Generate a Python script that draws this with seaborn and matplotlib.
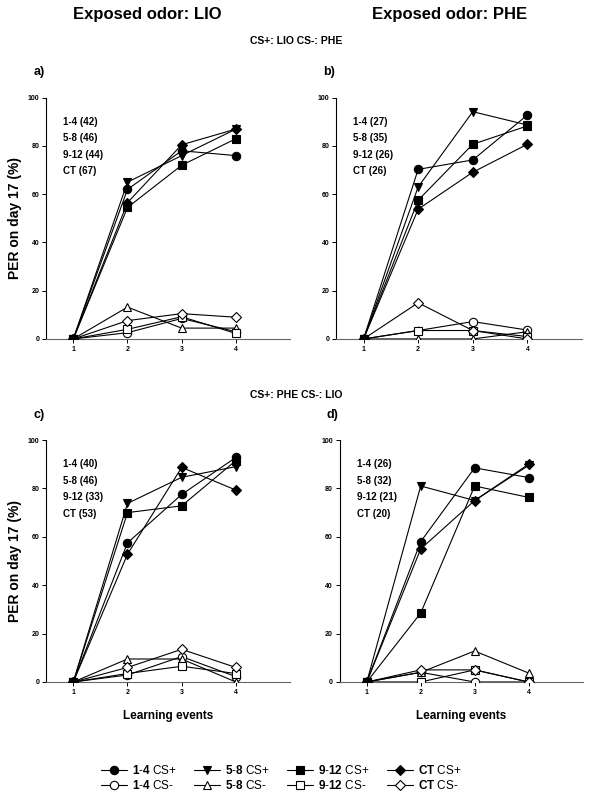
import pandas as pd
import matplotlib
matplotlib.use('Agg')
import matplotlib.pyplot as plt
import seaborn as sns
from matplotlib.lines import Line2D

# learning events on the x axis and the four age groups
events = [1, 2, 3, 4]
groups = ['1-4', '5-8', '9-12', 'CT']

# a) exposed LIO, CS+ LIO / CS- PHE
a_plus = {'1-4': [0, 62, 78, 76], '5-8': [0, 65, 76, 87], '9-12': [0, 54.5, 72, 83], 'CT': [0, 56.5, 80.5, 87]}
a_minus = {'1-4': [0, 2.6, 8.5, 3], '5-8': [0, 13.2, 4.5, 4.5], '9-12': [0, 4, 9.2, 2.3], 'CT': [0, 7.6, 10.5, 9]}
a_n = [42, 46, 44, 67]

# b) exposed PHE, CS+ LIO / CS- PHE
b_plus = {'1-4': [0, 70.3, 74.2, 92.8], '5-8': [0, 63, 94.2, 88.7], '9-12': [0, 57.5, 80.7, 88.3], 'CT': [0, 53.8, 69.1, 80.7]}
b_minus = {'1-4': [0, 3.5, 7.2, 3.7], '5-8': [0, 0, 0, 3], '9-12': [0, 3.5, 3.5, 1], 'CT': [0, 15, 3.5, 0]}
b_n = [27, 35, 26, 26]

# c) exposed LIO, CS+ PHE / CS- LIO
c_plus = {'1-4': [0, 57.5, 77.5, 92.8], '5-8': [0, 73.8, 84.6, 89], '9-12': [0, 70, 72.8, 91.5], 'CT': [0, 52.8, 88.7, 79.3]}
c_minus = {'1-4': [0, 2.9, 10.5, 2.2], '5-8': [0, 9.5, 9.5, 0], '9-12': [0, 3.5, 6.5, 3.5], 'CT': [0, 6, 13.5, 6]}
c_n = [40, 46, 33, 53]

# d) exposed PHE, CS+ PHE / CS- LIO
d_plus = {'1-4': [0, 58, 88.5, 84.5], '5-8': [0, 81, 75, 89.5], '9-12': [0, 28.5, 81, 76.3], 'CT': [0, 55, 75, 90]}
d_minus = {'1-4': [0, 4, 0, 0], '5-8': [0, 4, 12.8, 3.7], '9-12': [0, 0, 5, 0], 'CT': [0, 5, 5, 0]}
d_n = [26, 32, 21, 20]

# marker per group and conditioned stimulus
markers = {('1-4', 'CS+'): 'o', ('1-4', 'CS-'): 'o',
           ('5-8', 'CS+'): 'v', ('5-8', 'CS-'): '^',
           ('9-12', 'CS+'): 's', ('9-12', 'CS-'): 's',
           ('CT', 'CS+'): 'D', ('CT', 'CS-'): 'D'}
msize = {'1-4': 6, '5-8': 6.3, '9-12': 5.5, 'CT': 5.2}
faces = {'CS+': 'black', 'CS-': 'white'}

sns.set_style('ticks')
plt.rcParams['font.family'] = ['Liberation Sans', 'DejaVu Sans']
plt.rcParams['font.weight'] = 'bold'
plt.rcParams['text.color'] = 'black'
plt.rcParams['axes.labelcolor'] = 'black'
plt.rcParams['xtick.color'] = 'black'
plt.rcParams['ytick.color'] = 'black'
plt.rcParams['mathtext.fontset'] = 'custom'
plt.rcParams['mathtext.rm'] = 'Liberation Sans'
plt.rcParams['mathtext.bf'] = 'Liberation Sans:bold'


def long_df(plus, minus):
    rows = []
    for g in groups:
        for e, v in zip(events, plus[g]):
            rows.append({'group': g, 'cs': 'CS+', 'event': e, 'per': v})
        for e, v in zip(events, minus[g]):
            rows.append({'group': g, 'cs': 'CS-', 'event': e, 'per': v})
    return pd.DataFrame(rows)


fig = plt.figure(figsize=(5.92, 7.97), dpi=100)
panels = [
    ('a)', a_plus, a_minus, a_n, [0.078, 0.5747, 0.412, 0.3027], True, False),
    ('b)', b_plus, b_minus, b_n, [0.568, 0.5747, 0.415, 0.3027], False, False),
    ('c)', c_plus, c_minus, c_n, [0.078, 0.1443, 0.412, 0.3036], True, True),
    ('d)', d_plus, d_minus, d_n, [0.574, 0.1443, 0.41, 0.3036], False, True),
]

for label, plus, minus, ns, rect, ylab, xlab in panels:
    ax = fig.add_axes(rect)
    df = long_df(plus, minus)
    for cs in ['CS-', 'CS+']:
        for g in groups:
            sub = df[(df.group == g) & (df.cs == cs)]
            sns.lineplot(data=sub, x='event', y='per', ax=ax, color='black',
                         linewidth=0.8, marker=markers[(g, cs)], markersize=msize[g],
                         markerfacecolor=faces[cs], markeredgecolor='black',
                         markeredgewidth=0.8, legend=False, zorder=3)
    ax.set_xlim(0.5, 5.0)
    ax.set_ylim(0, 100)
    ax.set_xticks(events)
    ax.set_yticks([0, 20, 40, 60, 80, 100])
    ax.tick_params(labelsize=5, length=3, width=0.7, pad=2)
    for t in ax.get_xticklabels() + ax.get_yticklabels():
        t.set_fontweight('bold')
    sns.despine(ax=ax)
    ax.spines['left'].set_linewidth(0.8)
    ax.spines['left'].set_color('black')
    ax.spines['bottom'].set_linewidth(0.8)
    ax.spines['bottom'].set_color('#666666')
    ax.set_ylabel('PER on day 17 (%)' if ylab else '', fontsize=10, fontweight='bold')
    ax.set_xlabel('Learning events' if xlab else '', fontsize=8.5, fontweight='bold', labelpad=10)
    ax.text(-0.03, 1.105, label, transform=ax.transAxes, fontsize=9,
            fontweight='bold', ha='center', va='center')
    for i, (g, n) in enumerate(zip(groups, ns)):
        ax.text(0.07, 0.90 - i * 0.068, f'{g} ({n})', transform=ax.transAxes,
                fontsize=7, fontweight='bold', ha='left', va='center')

fig.text(0.248, 0.982, 'Exposed odor: LIO', fontsize=12, fontweight='bold', ha='center', va='center')
fig.text(0.76, 0.982, 'Exposed odor: PHE', fontsize=12, fontweight='bold', ha='center', va='center')
fig.text(0.5, 0.949, 'CS+: LIO CS-: PHE', fontsize=7.5, fontweight='bold', ha='center', va='center')
fig.text(0.5, 0.505, 'CS+: PHE CS-: LIO', fontsize=7.5, fontweight='bold', ha='center', va='center')

# legend: CS+ in the first row, CS- in the second
bold = {'1-4': r'$\mathbf{1}$-$\mathbf{4}$', '5-8': r'$\mathbf{5}$-$\mathbf{8}$',
        '9-12': r'$\mathbf{9}$-$\mathbf{12}$', 'CT': r'$\mathbf{CT}$'}
handles, labels = [], []
for g in groups:
    for cs in ['CS+', 'CS-']:
        handles.append(Line2D([], [], color='black', linewidth=0.8, marker=markers[(g, cs)],
                              markersize=msize[g], markerfacecolor=faces[cs],
                              markeredgecolor='black', markeredgewidth=0.8))
        labels.append(f'{bold[g]} {cs}')
leg = fig.legend(handles, labels, ncol=4, loc='center', bbox_to_anchor=(0.475, 0.024),
                 frameon=False, fontsize=8.5, handlelength=2.2, handletextpad=0.4,
                 columnspacing=1.5, labelspacing=0.15)
for t in leg.get_texts():
    t.set_fontweight('normal')

fig.savefig('out.png', dpi=100)
